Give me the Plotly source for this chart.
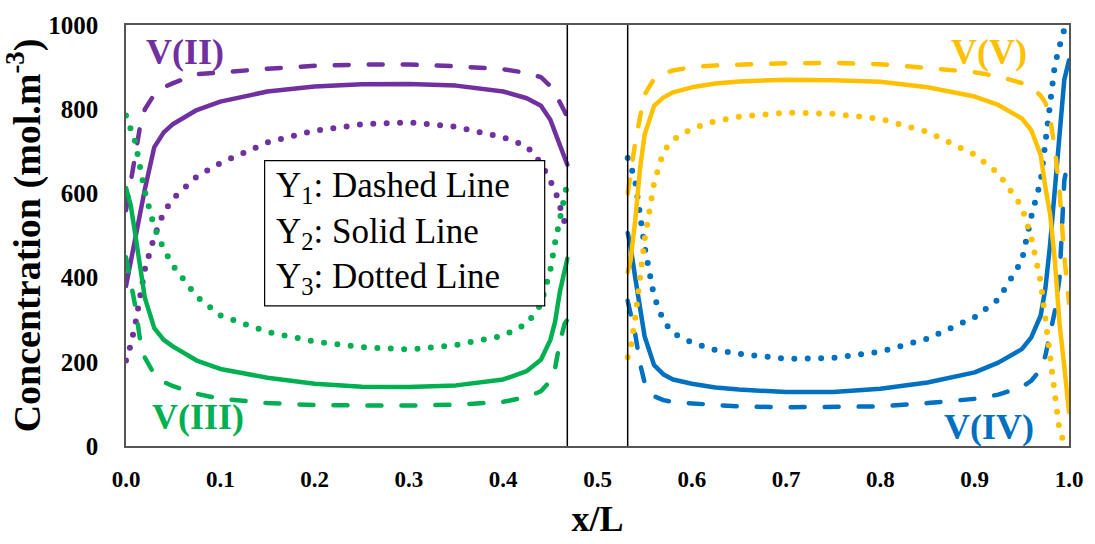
import plotly.graph_objects as go

# Position grids (dimensionless x/L) for the two compartments
x_left = [0, 0.005, 0.01, 0.015, 0.02, 0.03, 0.04, 0.05, 0.075, 0.1, 0.15, 0.2,
          0.25, 0.3, 0.35, 0.4, 0.425, 0.44, 0.45, 0.455, 0.46, 0.465, 0.468]
x_right = [0.532, 0.535, 0.54, 0.545, 0.55, 0.56, 0.57, 0.58, 0.6, 0.625, 0.65, 0.7,
           0.75, 0.8, 0.85, 0.9, 0.925, 0.95, 0.96, 0.97, 0.975, 0.98, 0.985, 0.99,
           0.995, 1.0]

# V(II) concentrations, mol/m3
v2_y1 = [560, 630, 705, 760, 800, 835, 852, 862, 883, 888, 896, 903,
         906, 906, 902, 895, 886, 876, 855, 838, 818, 795, 780]
v2_y2 = [380, 440, 500, 556, 610, 710, 745, 765, 798, 818, 842, 854,
         859, 860, 856, 842, 826, 808, 775, 745, 715, 685, 668]
v2_y3 = [203, 240, 291, 355, 420, 497, 555, 588, 640, 672, 721, 749,
         764, 769, 758, 733, 712, 672, 632, 608, 570, 525, 510]

# V(III) concentrations, mol/m3
v3_y1 = [448, 395, 330, 251, 210, 170, 152, 142, 124, 112, 102, 97,
         96, 96, 98, 105, 116, 130, 155, 185, 245, 290, 300]
v3_y2 = [613, 572, 500, 420, 352, 280, 252, 236, 203, 183, 162, 148,
         141, 140, 144, 158, 178, 205, 252, 295, 365, 415, 445]
v3_y3 = [785, 757, 721, 661, 604, 520, 468, 428, 355, 310, 271, 248,
         235, 229, 240, 262, 290, 336, 418, 483, 540, 600, 625]

# V(IV) concentrations, mol/m3
v4_y1 = [345, 312, 266, 197, 150, 118, 109, 104, 101, 97, 94, 92,
         92, 94, 102, 112, 122, 140, 155, 182, 215, 265, 320, 400,
         630, 690]
v4_y2 = [506, 475, 400, 330, 260, 192, 170, 158, 148, 139, 134, 128,
         128, 136, 151, 175, 198, 230, 258, 310, 375, 480, 612, 750,
         870, 916]
v4_y3 = [684, 668, 629, 552, 473, 355, 297, 268, 246, 228, 219, 207,
         209, 224, 255, 306, 348, 440, 545, 630, 730, 825, 905, 950,
         990, None]

# V(V) concentrations, mol/m3
v5_y1 = [600, 650, 720, 780, 835, 872, 885, 892, 900, 904, 906, 909,
         910, 907, 898, 888, 878, 862, 852, 832, 815, 780, 705, 605,
         450, 340]
v5_y2 = [413, 440, 535, 657, 740, 808, 828, 840, 852, 861, 866, 870,
         869, 865, 852, 830, 810, 778, 750, 691, 614, 550, 440, 290,
         189, 81]
v5_y3 = [211, 232, 304, 397, 490, 625, 700, 727, 754, 772, 782, 792,
         789, 777, 746, 692, 648, 568, 495, 390, 297, 210, 125, 35,
         8, None]

x_ticks = [0.0, 0.1, 0.2, 0.3, 0.4, 0.5, 0.6, 0.7, 0.8, 0.9, 1.0]
y_ticks = [0, 200, 400, 600, 800, 1000]
membrane = [0.468, 0.532]

PURPLE = "#7030A0"
GREEN = "#00B050"
BLUE = "#0070C0"
ORANGE = "#FFC000"

SERIF = "Times New Roman, Liberation Serif, DejaVu Serif, serif"

DASHED = dict(dash="14px,20px", width=4.5)
SOLID = dict(dash="solid", width=4.5)
DOTTED = dict(dash="0px,13.4px", width=6)

fig = go.Figure()

series = [
    (x_left, v2_y1, PURPLE, DASHED), (x_left, v2_y2, PURPLE, SOLID), (x_left, v2_y3, PURPLE, DOTTED),
    (x_left, v3_y1, GREEN, DASHED), (x_left, v3_y2, GREEN, SOLID), (x_left, v3_y3, GREEN, DOTTED),
    (x_right, v4_y1, BLUE, DASHED), (x_right, v4_y2, BLUE, SOLID), (x_right, v4_y3, BLUE, DOTTED),
    (x_right, v5_y1, ORANGE, DASHED), (x_right, v5_y2, ORANGE, SOLID), (x_right, v5_y3, ORANGE, DOTTED),
]
for xs, ys, color, style in series:
    fig.add_trace(go.Scatter(x=xs, y=ys, mode="lines",
                             line=dict(color=color, **style),
                             showlegend=False, hoverinfo="skip"))

# Membrane boundaries
for xm in membrane:
    fig.add_shape(type="line", xref="x", yref="y domain", x0=xm, x1=xm, y0=0, y1=1,
                  line=dict(color="black", width=1.5))

# Line-style key
fig.add_shape(type="rect", xref="x", yref="y", x0=0.147, x1=0.444, y0=333, y1=678,
              line=dict(color="black", width=1.2), fillcolor="white", layer="above")
fig.add_annotation(
    x=0.157, y=506, xref="x", yref="y", xanchor="left", yanchor="middle",
    align="left", showarrow=False,
    text="Y<sub>1</sub>: Dashed Line<br>Y<sub>2</sub>: Solid Line<br>Y<sub>3</sub>: Dotted Line",
    font=dict(family=SERIF, size=35, color="black"),
)

labels = [
    ("V(II)", 0.0625, 935, PURPLE),
    ("V(III)", 0.076, 70, GREEN),
    ("V(V)", 0.915, 935, ORANGE),
    ("V(IV)", 0.915, 46, BLUE),
]
for txt, lx, ly, col in labels:
    fig.add_annotation(x=lx, y=ly, xref="x", yref="y", text=txt, showarrow=False,
                       font=dict(family=SERIF, size=36, color=col, weight="bold"))

fig.update_xaxes(
    range=[0, 1], tickvals=x_ticks, ticktext=[f"{v:.1f}" for v in x_ticks],
    showgrid=False, zeroline=False, showline=True, mirror=True,
    linecolor="#555555", linewidth=1.5, ticks="", ticklabelstandoff=12,
    tickfont=dict(family=SERIF, size=23, color="black", weight="bold"),
    title=dict(text="x/L", standoff=14,
               font=dict(family=SERIF, size=36, color="black", weight="bold")),
)
fig.update_yaxes(
    range=[0, 1000], tickvals=y_ticks, ticktext=[str(v) for v in y_ticks],
    showgrid=False, zeroline=False, showline=True, mirror=True,
    linecolor="#555555", linewidth=1.5, ticks="", ticklabelstandoff=21,
    tickfont=dict(family=SERIF, size=25, color="black", weight="bold"),
    title=dict(text="Concentration (mol.m<sup>-3</sup>)", standoff=4,
               font=dict(family=SERIF, size=38, color="black", weight="bold")),
)

fig.update_layout(
    width=1095, height=544,
    margin=dict(l=126, r=25, t=17, b=96),
    plot_bgcolor="white", paper_bgcolor="white",
    font=dict(family=SERIF),
)

round_caps = (
    "document.querySelectorAll('.scatterlayer path.js-line').forEach(function(p){"
    "p.style.strokeLinecap='round';p.style.strokeLinejoin='round';});"
)
fig.write_html("out.html", post_script=round_caps)
